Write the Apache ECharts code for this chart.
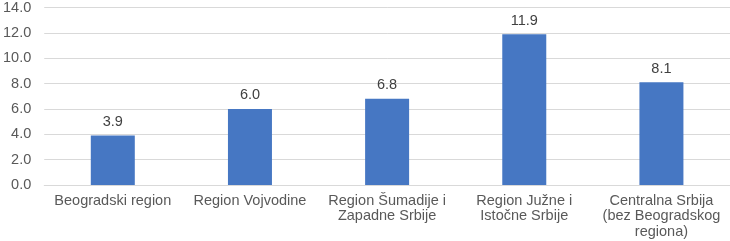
<!DOCTYPE html>
<html>
<head>
<meta charset="utf-8">
<script src="https://cdn.jsdelivr.net/npm/echarts@6/dist/echarts.min.js"></script>
<style>
  html, body { margin: 0; padding: 0; background: #fff; }
  #chart { width: 730px; height: 241px; }
</style>
</head>
<body>
<div id="chart"></div>
<script>
const categories = [
  'Beogradski region',
  'Region Vojvodine',
  'Region Šumadije i\nZapadne Srbije',
  'Region Južne i\nIstočne Srbije',
  'Centralna Srbija\n(bez Beogradskog\nregiona)'
];
const values = [3.9, 6.0, 6.8, 11.9, 8.1];
const yMin = 0;
const yMax = 14;
const yStep = 2;

const chart = echarts.init(document.getElementById('chart'));
chart.setOption({
  animation: false,
  backgroundColor: '#fff',
  textStyle: { fontFamily: 'Liberation Sans, Arial, sans-serif' },
  grid: { left: 41, width: 691, top: 5, bottom: 56, containLabel: false },
  xAxis: {
    type: 'category',
    data: categories,
    axisLine: { show: true, lineStyle: { color: '#d9d9d9', width: 1 } },
    axisTick: { show: false },
    axisLabel: {
      color: '#595959',
      fontSize: 14.5,
      lineHeight: 15.5,
      margin: 8,
      interval: 0
    }
  },
  yAxis: {
    type: 'value',
    min: yMin,
    max: yMax,
    interval: yStep,
    axisLine: { show: false },
    axisTick: { show: false },
    axisLabel: {
      color: '#595959',
      fontSize: 14.5,
      margin: 13,
      formatter: (v) => v.toFixed(1)
    },
    splitLine: { lineStyle: { color: '#d9d9d9', width: 1 } }
  },
  series: [
    {
      type: 'bar',
      data: values,
      barWidth: 44,
      itemStyle: { color: '#4677C3' },
      label: {
        show: true,
        position: 'top',
        distance: 6,
        color: '#404040',
        fontSize: 14.5,
        formatter: (p) => p.value.toFixed(1)
      }
    }
  ]
});
</script>
</body>
</html>
